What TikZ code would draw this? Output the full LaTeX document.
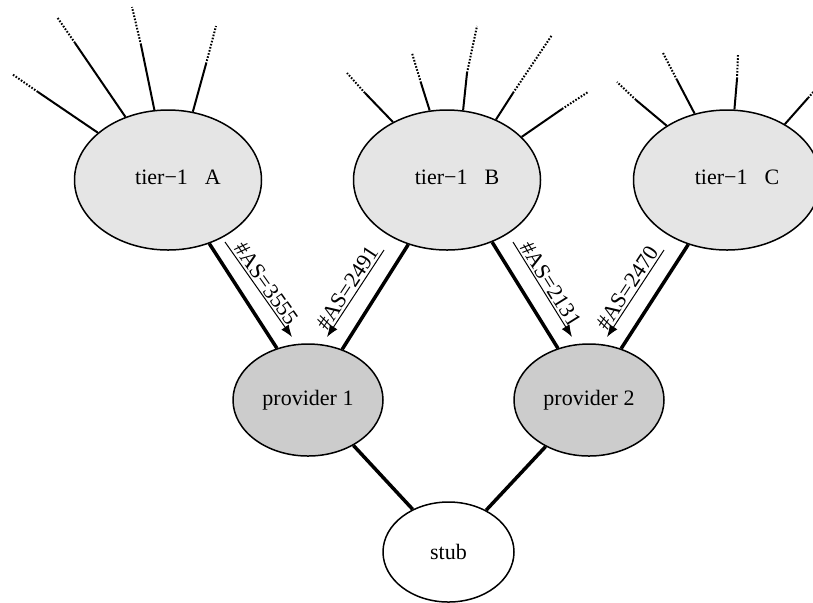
\documentclass[tikz,border=0pt]{standalone}
\usepackage{fontspec}
\setmainfont{Liberation Serif}
\usetikzlibrary{shapes.geometric,arrows.meta}
\tikzset{
  tier/.style={ellipse, draw, line width=0.75pt, fill=gray!20, minimum width=93.5pt, minimum height=70pt, inner sep=0pt},
  prov/.style={ellipse, draw, line width=0.75pt, fill=gray!40, minimum width=75pt, minimum height=56pt, inner sep=0pt},
  stubnode/.style={ellipse, draw, line width=0.75pt, fill=white, minimum width=65.5pt, minimum height=50pt, inner sep=0pt},
  link/.style={line width=1.75pt},
  spoke/.style={line width=1pt},
  far/.style={line width=1pt, dash pattern=on 0.8pt off 0.8pt},
  count/.style={line width=0.5pt, -{Latex[length=6pt,width=4.5pt]}},
  countlabel/.style={sloped, above, inner sep=1pt}
}
\newcommand{\tiername}[1]{\raisebox{2.5pt}{\hspace*{10pt}tier−1\hspace{8.5pt}#1}}
\begin{document}
\begin{tikzpicture}[x=0.5pt, y=-0.5pt, font=\fontsize{11}{13}\selectfont]
\useasboundingbox (0,0) rectangle (813,602);
\clip (0,0) rectangle (813,602);

% tier-1 and providers
\node[tier] (A) at (168,180) {\tiername{A}};
\node[tier] (B) at (447,180) {\tiername{B}};
\node[tier] (C) at (727,180) {\tiername{C}};
\node[prov] (p1) at (308,400) {provider 1};
\node[prov] (p2) at (589,400) {provider 2};
\node[stubnode] (stub) at (448.5,552) {stub};

% links towards the rest of the net
\foreach \n/\a/\mx/\my/\ex/\ey in {
    A/146.5/38/92/12/74, A/124.9/75/43/57/17, A/101.3/141/45/132/7, A/70.8/206/64/216/26,
    B/133.5/365/93/347/73, B/104.6/421/83/412/53, B/77.9/467/73/477/26,
    B/51.7/513/93/552/35, B/30.6/562/109/588/92,
    C/138.5/636/100/617/82, C/116.9/677/80/663/53, C/84.3/737/79/738/55, C/44/808/98/830/73}{
  \coordinate (m) at (\mx,\my);
  \coordinate (e) at (\ex,\ey);
  \draw[spoke] (\n.\a) -- (m);
  \draw[far] (m) -- (e);
}

% provider links
\draw[link] (A.-57.6) -- (p1.121.6);
\draw[link] (B.-121.8) -- (p1.56.8);
\draw[link] (B.-54.5) -- (p2.121.1);
\draw[link] (C.-121.8) -- (p2.58.1);
\draw[link] (p1.-45.6) -- (stub.130.2);
\draw[link] (p2.-133) -- (stub.48.2);

% route counts
\coordinate (a1s) at (225,242);
\coordinate (a1e) at (292,337);
\coordinate (a2s) at (384,250);
\coordinate (a2e) at (327,337);
\coordinate (a3s) at (513,242);
\coordinate (a3e) at (572,337);
\coordinate (a4s) at (664,250);
\coordinate (a4e) at (607,337);
\draw[count] (a1s) -- node[countlabel] {\#AS=3555} (a1e);
\draw[count] (a2s) -- node[countlabel] {\#AS=2491} (a2e);
\draw[count] (a3s) -- node[countlabel] {\#AS=2131} (a3e);
\draw[count] (a4s) -- node[countlabel] {\#AS=2470} (a4e);
\end{tikzpicture}
\end{document}
